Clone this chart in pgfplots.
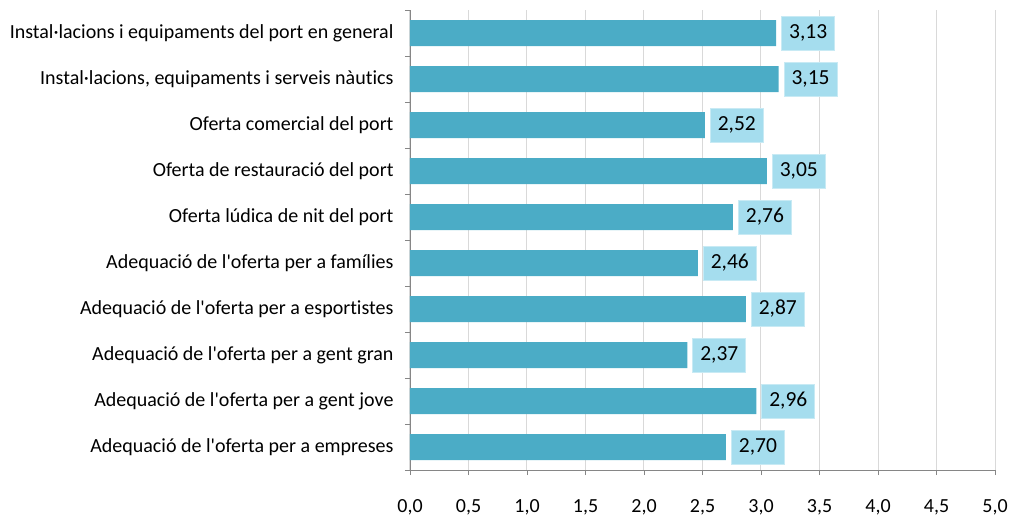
\documentclass[border=0pt]{standalone}
\usepackage{fontspec}
\setmainfont[Ligatures={NoCommon}]{Carlito}
\usepackage{pgfplots}
\pgfplotsset{compat=1.18}

\definecolor{barcol}{HTML}{4BACC6}
\definecolor{boxcol}{HTML}{A5DDEE}
\definecolor{boxline}{HTML}{C8EAF4}
\definecolor{axcol}{HTML}{868686}
\definecolor{gridcol}{HTML}{D9D9D9}

\begin{document}
\begin{tikzpicture}
\path[use as bounding box] (-410pt,-50pt) rectangle (599pt,470pt);
\begin{axis}[
    at={(0,0)}, anchor=south west,
    scale only axis,
    width=585pt, height=460pt,
    xbar, bar width=26pt,
    xmin=0, xmax=5,
    ymin=-0.5, ymax=9.5,
    y dir=reverse,
    xtick={0,0.5,...,5},
    ytick={-0.5,0.5,...,9.5},
    yticklabels={Instal·lacions i equipaments del port en general,
        {Instal·lacions, equipaments i serveis nàutics},
        Oferta comercial del port,
        Oferta de restauració del port,
        Oferta lúdica de nit del port,
        Adequació de l\textquotesingle oferta per a famílies,
        Adequació de l\textquotesingle oferta per a esportistes,
        Adequació de l\textquotesingle oferta per a gent gran,
        Adequació de l\textquotesingle oferta per a gent jove,
        Adequació de l\textquotesingle oferta per a empreses,{}},
    yticklabel style={yshift=-23pt, xshift=-8pt, font=\fontsize{20}{22}\selectfont},
    xticklabel style={yshift=-21pt, font=\fontsize{20}{22}\selectfont},
    /pgf/number format/assume math mode=true,
    xticklabel={\pgfmathprintnumber[fixed,fixed zerofill,precision=1,use comma]{\tick}},
    tick align=outside,
    major tick length=5pt,
    tick style={axcol, line width=0.8pt},
    axis x line*=bottom, axis y line*=left,
    axis line style={axcol, line width=0.8pt},
    xmajorgrids, grid style={gridcol, line width=1pt},
    point meta=x,
    nodes near coords={\pgfmathprintnumber[fixed,fixed zerofill,precision=2,use comma]{\pgfplotspointmeta}},
    nodes near coords align={horizontal},
    every node near coord/.append style={anchor=west, xshift=5pt, fill=boxcol, draw=boxline, line width=1pt,
        minimum height=34pt, minimum width=53pt, inner xsep=6pt, text=black, font=\fontsize{21.5}{23}\selectfont},
]
\addplot[fill=barcol, draw=none] coordinates {
(3.13,0) (3.15,1) (2.52,2) (3.05,3) (2.76,4) (2.46,5) (2.87,6) (2.37,7) (2.96,8) (2.70,9)
};
\end{axis}
\end{tikzpicture}
\end{document}
